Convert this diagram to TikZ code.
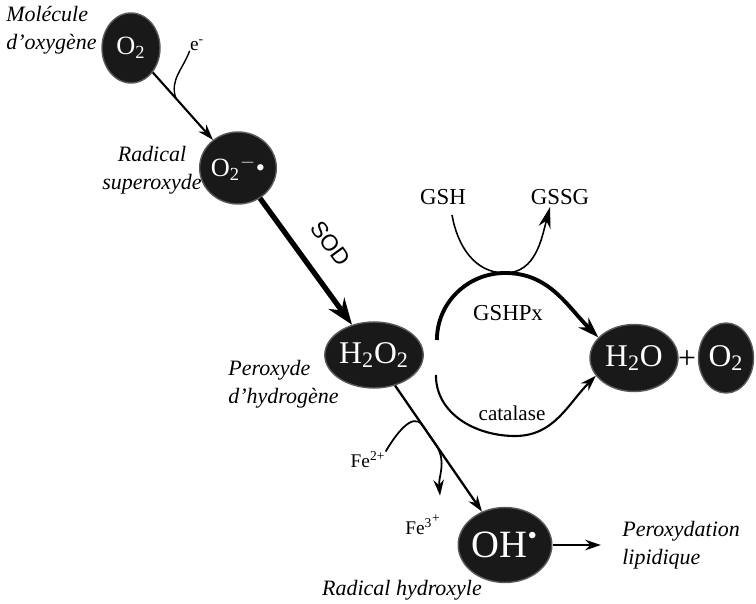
\documentclass[tikz,border=0pt]{standalone}
\usepackage{fontspec}
\setmainfont{Liberation Serif}
\setsansfont{Liberation Sans}
\usepackage{tikz}
\usetikzlibrary{shapes.geometric}
\usetikzlibrary{arrows.meta}
\usetikzlibrary{calc}

\begin{document}
\begin{tikzpicture}[x=0.02cm, y=-0.02cm,
  mol/.style={ellipse, draw=black!65, line width=0.8pt, fill=black!90, text=white, inner sep=0pt, font=\fontsize{18}{18}\selectfont},
  lab/.style={font=\fontsize{12.5}{16}\selectfont\itshape, inner sep=0pt},
  txt/.style={font=\fontsize{13}{15}\selectfont, inner sep=0pt},
  arr/.style={line width=1.2pt, -{Stealth[length=9pt,width=6pt]}}]
\useasboundingbox (0,0) rectangle (756,604);

\node[mol, minimum width=1.16cm, minimum height=1.4cm, font=\fontsize{15}{15}\selectfont] (O2a) at (131,48) {O\textsubscript{2}};
\node[mol, minimum width=1.1cm, minimum height=1.44cm, font=\fontsize{15}{15}\selectfont] (O2b) at (238,168) {O\textsubscript{2}\textsuperscript{$-$}\textbullet};
\node[mol, minimum width=1.84cm, minimum height=1.32cm] (H2O2) at (374,355) {H\textsubscript{2}O\textsubscript{2}};
\node[mol, minimum width=1.76cm, minimum height=1.34cm] (H2O) at (634,358) {H\textsubscript{2}O};
\node[mol, minimum width=1.1cm, minimum height=1.4cm] (O2c) at (726,358) {O\textsubscript{2}};
\node[mol, minimum width=1.28cm, minimum height=1.5cm, font=\fontsize{22}{22}\selectfont] (OH) at (505,545) {OH\textsuperscript{\textbullet}};
\node[txt, font=\fontsize{18}{18}\selectfont] (plus) at (687,360) {+};

\node[lab, align=left, anchor=west] (molLab) at (6,30) {Molécule\\d'oxygène};
\node[lab, align=center] (supLab) at (152,170) {Radical\\superoxyde};
\node[lab, align=left, anchor=west] (perLab) at (228,384) {Peroxyde\\d'hydrogène};
\node[lab] (hydLab) at (402,590) {Radical hydroxyle};
\node[lab, align=left, anchor=west] (lipLab) at (622,545) {Peroxydation\\lipidique};

\node[txt, font=\fontsize{11}{11}\selectfont] (em) at (197,45) {e\textsuperscript{-}};
\node[txt] (GSH) at (443,197) {GSH};
\node[txt] (GSSG) at (560,197) {GSSG};
\node[txt] (GSHPx) at (508,313) {GSHPx};
\node[txt, font=\fontsize{12}{14}\selectfont] (cat) at (512,413) {catalase};
\node[txt, font=\fontsize{11}{12}\selectfont] (Fe2) at (368,460) {Fe\textsuperscript{2+}};
\node[txt, font=\fontsize{11}{12}\selectfont] (Fe3) at (423,525) {Fe\textsuperscript{3}\textsuperscript{\raisebox{3pt}{+}}};

\coordinate (ej) at ($(O2a)!0.42!(O2b)$);
\coordinate (gs) at ([shift={(13,-15)}]H2O2.east);
\coordinate (cs) at ([shift={(12,20)}]H2O2.east);
\coordinate (gt) at (505,273);
\coordinate (cb) at (515,436);
\coordinate (fe1) at ($(H2O2)!0.37!(OH)$);
\coordinate (fe2) at ($(H2O2)!0.48!(OH)$);
\coordinate (fe3) at ([shift={(17,-19)}]Fe3.north);

\draw[arr] (O2a) -- (O2b);
\draw[line width=0.8pt] (em.south west) to[out=250,in=110] (ej);
\draw[line width=3pt, -{Stealth[length=15pt,width=11pt]}] (O2b) -- (H2O2) node[midway, sloped, above=8pt, font=\sffamily\fontsize{13}{13}\selectfont] {SOD};
\draw[line width=2.2pt, -{Stealth[length=12pt,width=8pt]}] (gs) to[out=90,in=180] (gt) to[out=0,in=135] (H2O.150);
\draw[line width=0.9pt, -{Stealth[length=12pt,width=7pt]}] ([shift={(9,10)}]GSH.south) to[out=-80,in=180] (gt) to[out=0,in=-105] ([shift={(-10,2)}]GSSG.south);
\draw[arr] (cs) to[out=-90,in=180] (cb) to[out=0,in=-135] (H2O.205);
\draw[arr, line width=1.3pt] (H2O2) -- (OH);
\draw[line width=1pt, -{Stealth[length=9pt,width=6pt]}] (Fe2.north east) to[out=60,in=125] (fe1) -- (fe2) to[out=-60,in=95] (fe3);
\draw[arr, shorten >=12pt] (OH) -- (lipLab.west);
\end{tikzpicture}
\end{document}
